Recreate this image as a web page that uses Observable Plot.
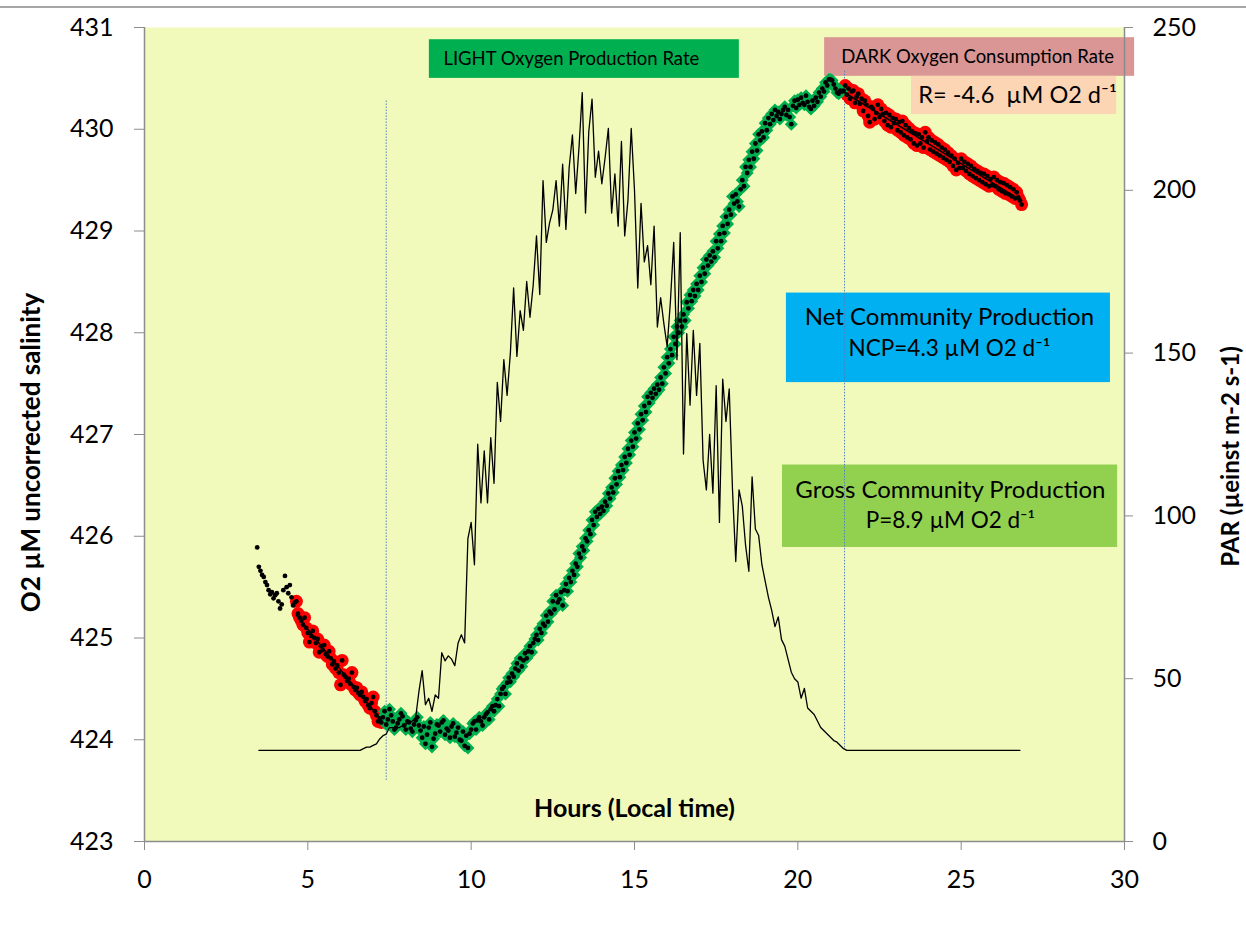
<!DOCTYPE html>
<html><head><meta charset="utf-8">
<script src="https://cdn.jsdelivr.net/npm/d3@7"></script>
<script src="https://cdn.jsdelivr.net/npm/@observablehq/plot@0.6"></script>
<style>
html,body{margin:0;padding:0;background:#fff;}
#wrap{position:relative;width:1246px;height:935px;}
#topline{position:absolute;left:0;top:6px;width:1246px;height:2px;background:#a6a6a6;}
#wrap svg{display:block;}
</style></head><body><div id="wrap"><div id="topline"></div></div>
<script>
// ---- data (hours, local time; O2 in µM; PAR in µeinst m-2 s-1) ----
// O2 record, sampled every 0.05 h
const O2_STEP = 0.05;
// early-morning points (black only)
const o2PreStart = 3.45;
const o2Pre = [425.89,425.70,425.66,425.62,425.60,425.55,425.52,425.47,425.43,425.45,425.39,425.42,
  425.44,425.36,425.29,425.33,425.47,425.61,425.50,425.44,425.52,425.40,425.32,425.35];
// first dark segment (red)
const o2Dark1Start = 4.65;
const o2Dark1 = [425.36,425.24,425.20,425.17,425.13,425.20,425.10,
  425.05,424.96,425.02,425.07,425.00,424.95,424.99,424.86,424.92,424.88,424.93,424.84,424.82,424.87,424.80,424.74,424.77,424.70,424.73,424.66,
  424.54,424.78,424.64,424.62,424.58,424.60,424.55,424.66,424.52,424.49,424.51,424.46,424.44,424.47,424.42,424.38,424.40,424.34,424.31,424.36,
  424.42,424.28,424.24,424.18,424.21,424.17];
// light segment (green)
const o2LightStart = 7.3;
const o2Light = [424.22,424.28,424.15,424.20,424.30,424.24,424.18,424.10,424.12,424.16,424.20,424.26,424.23,424.14,
  424.10,424.18,424.17,424.11,424.08,424.15,424.19,424.22,424.14,424.09,424.02,424.13,423.96,424.05,424.12,424.17,423.93,424.01,424.06,424.15,
  424.14,424.08,424.17,424.19,424.05,424.11,424.09,424.02,424.13,424.16,424.03,424.07,424.12,424.00,423.99,424.08,423.94,424.04,423.92,424.06,
  424.10,424.16,424.18,424.10,424.19,424.22,424.18,424.14,424.22,424.25,424.27,424.20,424.30,424.33,424.28,424.34,424.40,424.33,424.45,424.50,
  424.52,424.45,424.56,424.61,424.57,424.65,424.62,424.70,424.75,424.68,424.80,424.72,424.78,424.85,424.80,424.87,424.92,424.86,424.95,424.99,
  425.03,424.98,425.09,425.05,425.14,425.12,425.22,425.16,425.26,425.24,425.36,425.28,425.42,425.35,425.38,425.45,425.32,425.47,425.53,425.46,
  425.59,425.55,425.66,425.62,425.73,425.70,425.83,425.79,425.90,425.86,425.98,425.95,426.06,426.02,426.16,426.11,426.24,426.19,426.27,426.22,
  426.29,426.25,426.34,426.30,426.42,426.37,426.48,426.43,426.57,426.51,426.64,426.58,426.70,426.65,426.78,426.72,426.86,426.80,426.94,426.88,
  427.02,426.96,427.11,427.05,427.20,427.14,427.28,427.22,427.37,427.31,427.41,427.36,427.45,427.40,427.49,427.44,427.56,427.50,427.66,427.60,
  427.76,427.70,427.84,427.78,427.96,427.89,428.06,428.00,428.12,428.06,428.18,428.12,428.30,428.24,428.37,428.31,428.42,428.36,428.48,428.42,
  428.56,428.50,428.64,428.58,428.72,428.66,428.76,428.70,428.80,428.74,428.90,428.83,428.97,428.90,429.05,428.98,429.14,429.07,429.21,429.16,
  429.34,429.27,429.36,429.29,429.24,429.41,429.50,429.44,429.63,429.57,429.70,429.63,429.78,429.71,429.86,429.79,429.95,429.89,429.98,429.92,
  430.06,429.99,430.11,430.05,430.15,430.09,430.19,430.13,430.17,430.10,430.15,430.19,430.22,430.14,430.19,430.12,430.05,430.23,430.28,430.21,
  430.29,430.24,430.31,430.26,430.24,430.33,430.27,430.22,430.20,430.28,430.23,430.31,430.27,430.36,430.32,430.40,430.37,430.46,430.43,430.49,
  430.49,430.48,430.44,430.40,430.36,430.35,430.38,430.37];
// second dark segment (red)
const o2Dark2Start = 21.4;
const o2Dark2 = [430.38,430.43,430.34,430.40,430.30,430.37,430.38,430.26,430.32,430.35,430.25,430.30,
  430.18,430.28,430.24,430.13,430.07,430.22,430.20,430.10,430.16,430.24,430.12,430.20,430.15,430.08,430.16,430.04,430.14,430.02,430.11,430.06,
  430.10,429.99,430.07,429.97,430.08,429.94,430.04,429.92,430.01,429.90,429.98,429.86,429.96,429.84,429.95,429.86,429.92,429.82,429.97,429.88,
  429.92,429.80,429.89,429.78,429.87,429.76,429.85,429.74,429.82,429.72,429.80,429.70,429.77,429.68,429.74,429.64,429.71,429.60,429.67,429.62,
  429.71,429.62,429.68,429.59,429.66,429.56,429.64,429.54,429.61,429.52,429.59,429.50,429.57,429.48,429.56,429.46,429.54,429.44,429.51,429.45,
  429.53,429.44,429.50,429.41,429.48,429.39,429.47,429.37,429.45,429.36,429.43,429.34,429.41,429.32,429.38,429.33,429.30,429.26];
// PAR: night baseline points + daytime record (every 0.1 h)
const parNightHours = [3.5, 26.8];
const parNightValues = [28, 28];
const parDayStart = 6.6, parStep = 0.1;
const parDay = [28,28.5,29,29,29.5,30,31.5,32.5,33,35,
  35,35,35,35.5,36,36.5,37,38,46,52.5,
  42,44,40,45,44,58,55.5,57,56,54,
  61,63.5,61,93,98,85,122,104,120,104,
  124,110,141,129,148,137,150,170,149,163,
  157,172,161,171,186,168,203,184,190,194,
  203,189,208,188,207,217,199,213,230,193,
  218,228,204,212,202,210,219,193,205,189,
  215,186,197,219,200,170,196,178,183,171,
  189,158,167,159,152,166,184,148,187,119,
  156,134,157,137,153,117,108,125,107,140,
  98,142,129,139,108,86,108,103,91,83,
  112,96,94,85,80,75,71,66,69,62,
  60,56,52,50,49,44,47,41,40,39,
  37,35,34,33,32,31,30.5,29.5,28.5,28];
// axes
const xTicks = [0,5,10,15,20,25,30];
const o2Ticks = [423,424,425,426,427,428,429,430,431];
const parTicks = [0,50,100,150,200,250];
// period markers (dotted lines): hour, top O2, bottom O2
const markerHours = [7.4, 21.43];
const markerTop = [430.28, 430.58];
const markerBottom = [423.60, 423.92];
// annotation boxes
const boxLabels = ["LIGHT", "DARK", "R", "NCP", "GCP"];
const boxColors = ["#00b050", "#d99694", "#fcd5b5", "#00b0f0", "#92d050"];
const boxX1 = [8.72, 20.82, 23.48, 19.65, 19.53];
const boxX2 = [18.21, 30.31, 29.76, 29.57, 29.79];
const boxY1 = [430.50, 430.52, 430.145, 427.51, 425.89];
const boxY2 = [430.88, 430.90, 430.52, 428.39, 426.70];
// annotation texts
const noteTexts = ["LIGHT Oxygen Production Rate", "DARK Oxygen Consumption Rate", "R= -4.6  µM O2 d⁻¹",
  "Net Community Production", "NCP=4.3 µM O2 d⁻¹", "Gross Community Production", "P=8.9 µM O2 d⁻¹"];
const noteX = [9.15, 21.33, 23.69, 24.64, 24.64, 24.67, 24.67];
const noteY = [430.69, 430.705, 430.33, 428.15, 427.845, 426.45, 426.155];
const noteAnchor = ["start", "start", "start", "middle", "middle", "middle", "middle"];
const noteSize = [18.5, 18.5, 23.5, 24, 22.5, 24, 22.5];

// ---- build tables ----
const rows = (start, step, vals) => vals.map((v, i) => ({h: +(start + i * step).toFixed(2), o2: v}));
const pre = rows(o2PreStart, O2_STEP, o2Pre);
const dark1 = rows(o2Dark1Start, O2_STEP, o2Dark1);
const light = rows(o2LightStart, O2_STEP, o2Light);
const dark2 = rows(o2Dark2Start, O2_STEP, o2Dark2);
const allO2 = [...pre, ...dark1, ...light, ...dark2];
const darkAll = [...dark1, ...dark2];
const Y0 = 423, Y1 = 431, P1 = 250;
const parToY = p => Y0 + p * (Y1 - Y0) / P1;
const yToPar = y => Math.round((y - Y0) * P1 / (Y1 - Y0));
const parRows = [
  {h: parNightHours[0], p: parNightValues[0]},
  ...parDay.map((p, i) => ({h: +(parDayStart + i * parStep).toFixed(2), p})),
  {h: parNightHours[1], p: parNightValues[1]}
];
const markers = markerHours.map((h, i) => ({h, y1: markerBottom[i], y2: markerTop[i]}));
const boxes = boxLabels.map((k, i) => ({k, fill: boxColors[i], x1: boxX1[i], x2: boxX2[i], y1: boxY1[i], y2: boxY2[i]}));
const notes = noteTexts.map((t, i) => ({t, x: noteX[i], y: noteY[i], a: noteAnchor[i], s: noteSize[i]}));

const FONT = "Lato, 'Open Sans', sans-serif";
const gray = "#8c8c8c";

const chart = Plot.plot({
  width: 1246, height: 935,
  marginLeft: 144, marginRight: 122, marginTop: 27, marginBottom: 94,
  style: {fontFamily: FONT, background: "transparent", color: "black", overflow: "visible"},
  x: {domain: [0, 30]},
  y: {domain: [Y0, Y1]},
  marks: [
    Plot.frame({fill: "#f2fabb", stroke: "none"}),
    // boxes
    ...boxes.map(b => Plot.rect([b], {x1: "x1", x2: "x2", y1: "y1", y2: "y2", fill: "fill", clip: false})),
    // box texts
    ...notes.map(n => Plot.text([n], {x: "x", y: "y", text: "t", textAnchor: n.a, fontSize: n.s, fill: "black", lineAnchor: "middle"})),
    // markers
    Plot.ruleX(markers, {x: "h", y1: "y1", y2: "y2", stroke: "#4f81bd", strokeWidth: 1, strokeDasharray: "1.5,1.5"}),
    // halos
    Plot.dot(darkAll, {x: "h", y: "o2", r: 6.5, fill: "#ff0000", stroke: "none"}),
    Plot.dot(light, {x: "h", y: "o2", symbol: "square", rotate: 45, r: 5.2, fill: "#00b050", stroke: "none"}),
    // PAR
    Plot.line(parRows, {x: "h", y: d => parToY(d.p), stroke: "black", strokeWidth: 1.3, curve: "linear"}),
    // oxygen points
    Plot.dot(allO2, {x: "h", y: "o2", r: 2.4, fill: "black", stroke: "none"}),
    // dark respiration regressions
    Plot.linearRegressionY(dark1, {x: "h", y: "o2", stroke: "black", strokeWidth: 1.5, ci: 0}),
    Plot.linearRegressionY(dark2, {x: "h", y: "o2", stroke: "black", strokeWidth: 1.5, ci: 0}),
    // axis lines
    Plot.ruleX([0, 30], {stroke: gray, strokeWidth: 1.5}),
    Plot.ruleY([Y0], {stroke: gray, strokeWidth: 1.5}),
    Plot.axisX(xTicks, {anchor: "bottom", tickSize: 9, tickPadding: 20, fontSize: 25, stroke: gray, fill: "black", label: null}),
    Plot.axisY(o2Ticks, {anchor: "left", tickSize: 10, tickPadding: 21, fontSize: 25, stroke: gray, fill: "black", label: null, tickFormat: d => String(d)}),
    Plot.axisY(parTicks.map(parToY), {anchor: "right", tickSize: 8, tickPadding: 20, fontSize: 25, stroke: gray, fill: "black", label: null, tickFormat: yToPar}),
    // axis titles
    Plot.text(["Hours (Local time)"], {frameAnchor: "bottom", dy: -33, fontSize: 25, fontWeight: "bold", lineAnchor: "middle", fill: "black"}),
    Plot.text(["O2 µM uncorrected salinity"], {frameAnchor: "left", textAnchor: "middle", dx: -113, dy: 18, rotate: -90, fontSize: 26, fontWeight: "bold", lineAnchor: "middle", fill: "black"}),
    Plot.text(["PAR (µeinst m-2 s-1)"], {frameAnchor: "right", textAnchor: "middle", dx: 107, dy: 22, rotate: -90, fontSize: 24, fontWeight: "bold", lineAnchor: "middle", fill: "black"})
  ]
});
document.getElementById("wrap").prepend(chart);
</script></body></html>
